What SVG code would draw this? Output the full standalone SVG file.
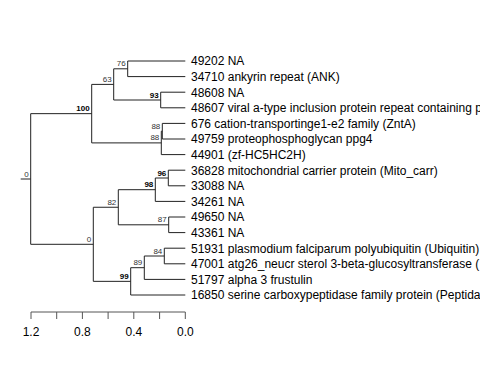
<svg xmlns="http://www.w3.org/2000/svg" width="480" height="384" viewBox="0 0 480 384">
<style>
.e{stroke:#222;stroke-width:1;fill:none}
.t{font-family:"Liberation Sans",Arial,sans-serif;font-size:12px;fill:#000}
.n{font-family:"Liberation Sans",Arial,sans-serif;font-size:8px;fill:#333;text-anchor:end}
.b{font-weight:bold;fill:#000}
.ax{stroke:#555;stroke-width:1;fill:none}
.al{font-family:"Liberation Sans",Arial,sans-serif;font-size:12px;fill:#000;text-anchor:middle}
</style>
<rect width="480" height="384" fill="#fff"/>
<g id="connectors">
<path class="e" d="M20.7,179H30.7M30.7,113.65V244.3M30.7,113.65H91.7M30.7,244.3H93.3
M91.7,84.4V142.9M91.7,84.4H113.7M91.7,142.9H161.3
M113.7,68.8V100M113.7,68.8H127.7M113.7,100H160.7
M127.7,61V76.6M127.7,61H185.3M127.7,76.6H185.3
M160.7,92.2V107.8M160.7,92.2H185.3M160.7,107.8H185.3
M161.3,131.2V154.6M161.3,131.2H162.3M161.3,154.6H185.3
M162.3,123.4V139M162.3,123.4H185.3M162.3,139H185.3
M93.3,207.25V281.35M93.3,207.25H118.3M93.3,281.35H130.7
M118.3,189.7V224.8M118.3,189.7H155.3M118.3,224.8H168.7
M155.3,178V201.4M155.3,178H168.3M155.3,201.4H185.3
M168.3,170.2V185.8M168.3,170.2H185.3M168.3,185.8H185.3
M168.7,217V232.6M168.7,217H185.3M168.7,232.6H185.3
M130.7,267.7V295M130.7,267.7H144.3M130.7,295H185.3
M144.3,256V279.4M144.3,256H164.3M144.3,279.4H185.3
M164.3,248.2V263.8M164.3,248.2H185.3M164.3,263.8H185.3"/>
</g>
<g id="node-labels">
<text class="n" x="28.7" y="176.5">0</text>
<text class="n b" x="89.7" y="111.2">100</text>
<text class="n" x="111.7" y="82">63</text>
<text class="n" x="125.7" y="66.3">76</text>
<text class="n b" x="158.7" y="97.5">93</text>
<text class="n" x="160.3" y="128.7">88</text>
<text class="n" x="159.3" y="140.4">88</text>
<text class="n" x="91.3" y="241.8">0</text>
<text class="n" x="116.3" y="204.8">82</text>
<text class="n b" x="153.3" y="187.2">98</text>
<text class="n b" x="166.3" y="175.5">96</text>
<text class="n" x="166.7" y="222.3">87</text>
<text class="n b" x="128.7" y="278.9">99</text>
<text class="n" x="142.3" y="265.2">89</text>
<text class="n" x="162.3" y="253.5">84</text>
</g>
<g id="tips">
<text class="t" x="191" y="65.3">49202 NA</text>
<text class="t" x="191" y="80.9">34710 ankyrin repeat (ANK)</text>
<text class="t" x="191" y="96.5">48608 NA</text>
<text class="t" x="191" y="112.1">48607 viral a-type inclusion protein repeat containing p</text>
<text class="t" x="191" y="127.7">676 cation-transportinge1-e2 family (ZntA)</text>
<text class="t" x="191" y="143.3">49759 proteophosphoglycan ppg4</text>
<text class="t" x="191" y="158.9">44901 (zf-HC5HC2H)</text>
<text class="t" x="191" y="174.5">36828 mitochondrial carrier protein (Mito_carr)</text>
<text class="t" x="191" y="190.1">33088 NA</text>
<text class="t" x="191" y="205.7">34261 NA</text>
<text class="t" x="191" y="221.3">49650 NA</text>
<text class="t" x="191" y="236.9">43361 NA</text>
<text class="t" x="191" y="252.5">51931 plasmodium falciparum polyubiquitin (Ubiquitin)</text>
<text class="t" x="191" y="268.1">47001 atg26_neucr sterol 3-beta-glucosyltransferase (</text>
<text class="t" x="191" y="283.7">51797 alpha 3 frustulin</text>
<text class="t" x="191" y="299.3">16850 serine carboxypeptidase family protein (Peptida</text>
</g>
<g id="axis">
<path class="ax" d="M31,312H185.3M31,312V319M56.7,312V319M82.4,312V319M108.1,312V319M133.8,312V319M159.6,312V319M185.3,312V319"/>
<text class="al" x="31" y="336">1.2</text>
<text class="al" x="82.4" y="336">0.8</text>
<text class="al" x="133.8" y="336">0.4</text>
<text class="al" x="185.3" y="336">0.0</text>
</g>
</svg>
